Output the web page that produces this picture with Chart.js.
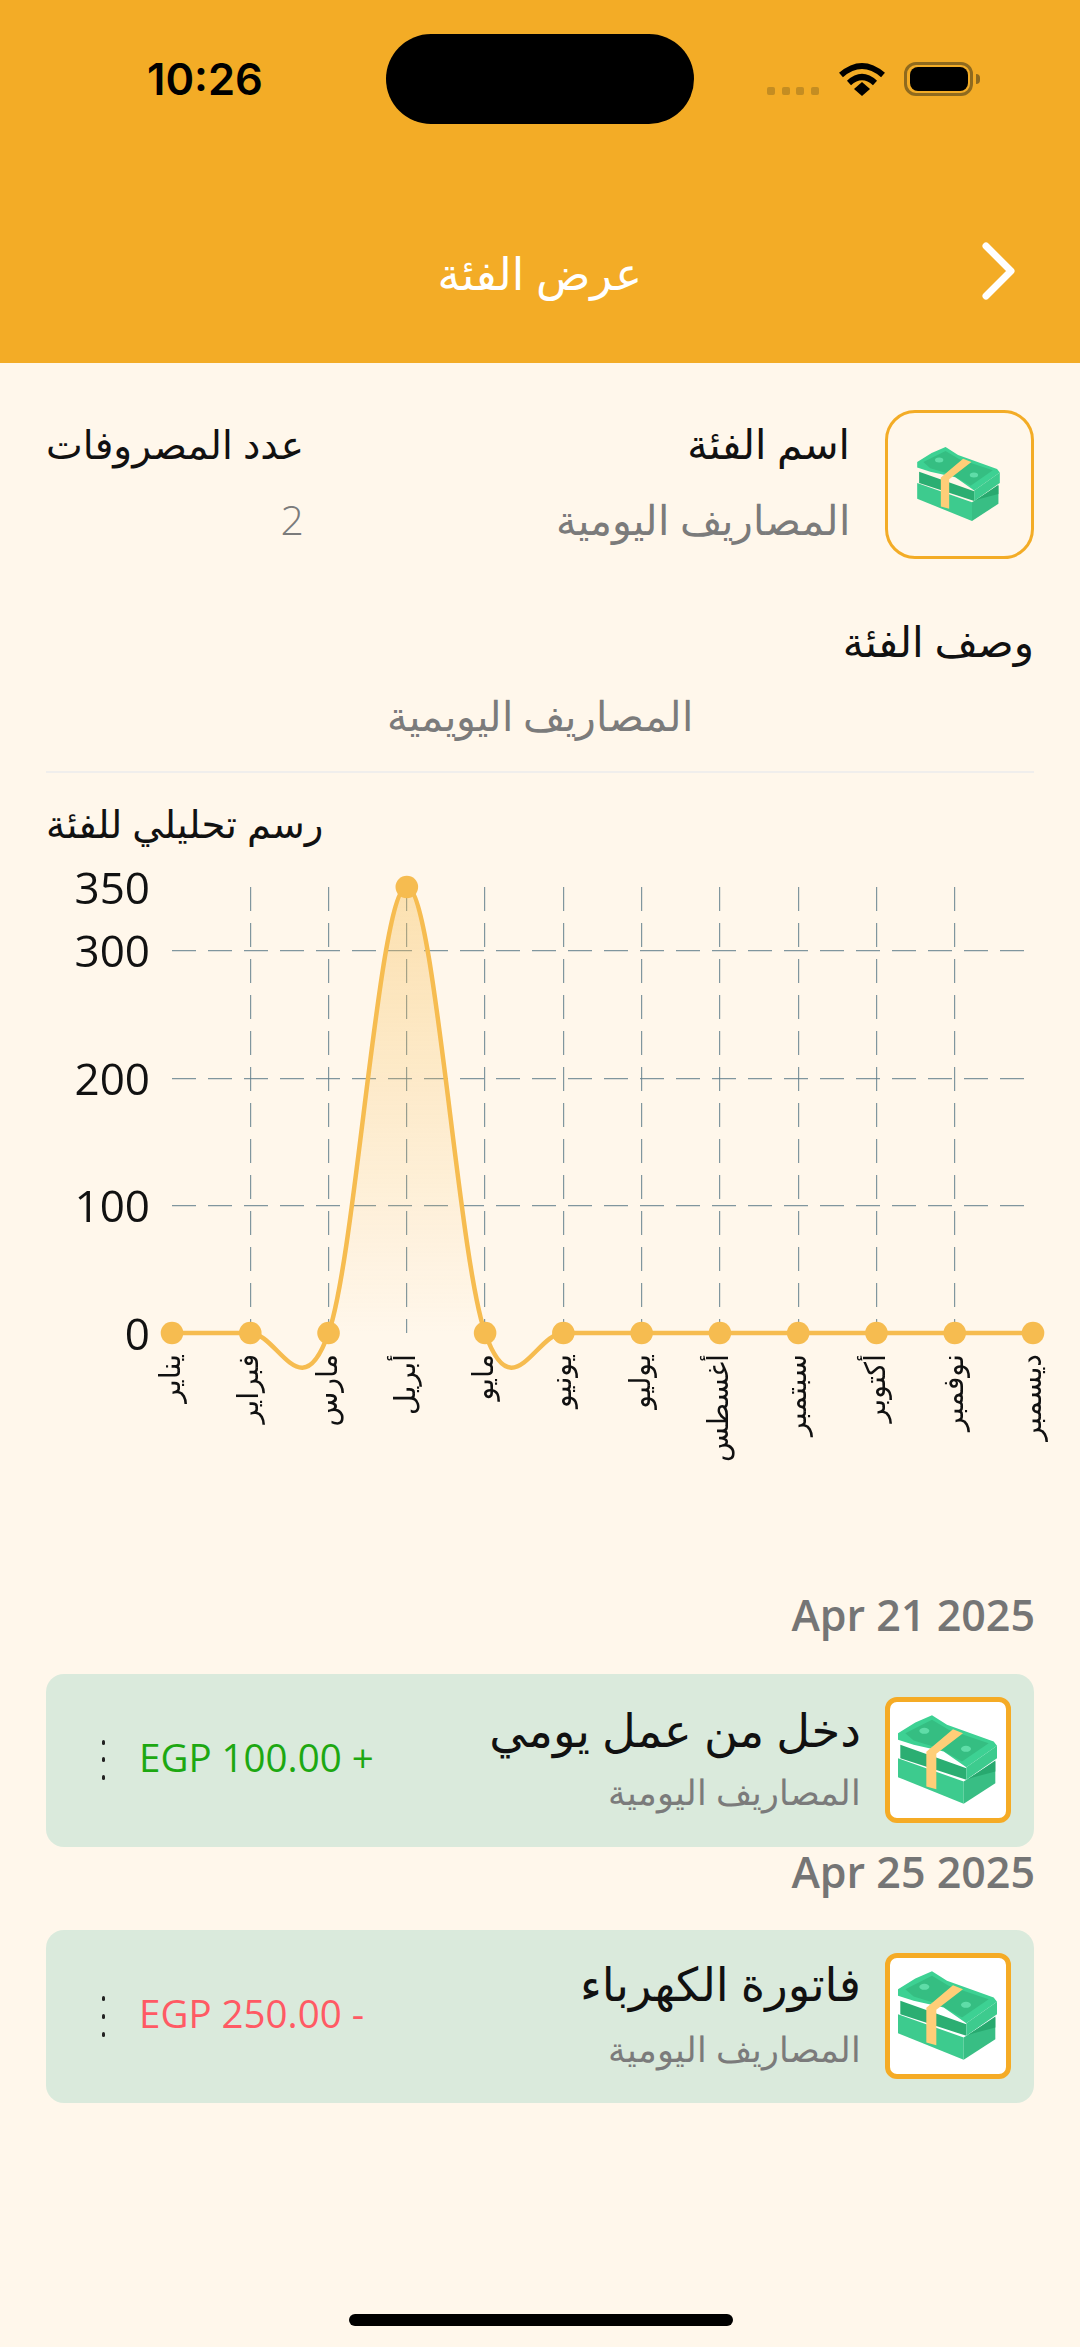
<!DOCTYPE html>
<html lang="ar">
<head>
<meta charset="utf-8">
<title>عرض الفئة</title>
<script src="https://cdn.jsdelivr.net/npm/chart.js@4"></script>
<style>
  html, body { margin: 0; padding: 0; }
  body { width: 1080px; height: 2347px; position: relative; overflow: hidden; background: #FFF7EB; font-family: 'Open Sans', 'Noto Sans', 'DejaVu Sans', sans-serif; }
  .box { position: absolute; box-sizing: border-box; }
  .t { position: absolute; white-space: nowrap; line-height: 1; transform: translateY(-50%); }
  .r { direction: rtl; }
  .head { color: #111; font-size: 39px; font-weight: 500; }
  .sub { color: #7b7b7b; font-size: 41px; font-weight: 300; }
  .date { color: #757575; font-size: 43px; font-weight: 600; }
  .name { color: #111; font-size: 46.5px; }
  .amt { font-size: 38.5px; direction: ltr; }
  .card { background: #DAEADC; border-radius: 18px; left: 46px; width: 988px; height: 173px; }
  .ico { background: #fff; border: 5px solid #F5AB25; border-radius: 12px; left: 885px; width: 126px; height: 126px; }
  .dot { background: #222; width: 3px; height: 5px; left: 102px; border-radius: 2px; }
  canvas { position: absolute; left: 0; top: 860px; }
  svg { position: absolute; overflow: visible; }
</style>
</head>
<body>
<svg width="0" height="0" style="left:0;top:0">
  <symbol id="cash" viewBox="53 76 297 266">
    <polygon points="53,205 250,275 250,342 53,262" fill="#3DCB8E"/>
    <polygon points="250,275 345,215 345,280 250,342" fill="#38BE84"/>
    <polygon points="60,165 258,235 258,270 60,205" fill="#2BAE72"/>
    <polygon points="262,268 345,212 345,245 280,262" fill="#28A96F"/>
    <polygon points="53,130 105,98 155,76 200,105 340,155 350,168 258,232 190,185 100,165 53,150" fill="#3DD193"/>
    <polygon points="75,130 155,90 205,120 325,160 245,215 175,175 100,152" fill="#35BE82"/>
    <polygon points="258,232 350,168 350,205 258,270" fill="#3DCB8E"/>
    <ellipse cx="132" cy="123" rx="15" ry="9" fill="#5FDDA8"/>
    <ellipse cx="257" cy="177" rx="15" ry="9" fill="#5FDDA8"/>
    <polygon points="218,118 248,130 168,192 168,298 138,290 138,186" fill="#FFCE78"/>
  </symbol>
</svg>

<div class="box" style="left:0;top:0;width:1080px;height:363px;background:#F3AC26"></div>
<div class="t" style="left:147px;top:80px;font-family:Inter;font-weight:600;font-size:43.5px;color:#000">10:26</div>
<div class="box" style="left:386px;top:34px;width:308px;height:90px;border-radius:45px;background:#000"></div>
<div class="box" style="left:767px;top:87px;width:8px;height:8px;border-radius:2px;background:#C48D22"></div>
<div class="box" style="left:782px;top:87px;width:8px;height:8px;border-radius:2px;background:#C48D22"></div>
<div class="box" style="left:796px;top:87px;width:8px;height:8px;border-radius:2px;background:#C48D22"></div>
<div class="box" style="left:811px;top:87px;width:8px;height:8px;border-radius:2px;background:#C48D22"></div>
<svg style="left:838px;top:60px" width="48" height="38" viewBox="0 0 48 38">
  <path d="M3 15 Q24 -3 45 15" fill="none" stroke="#000" stroke-width="6"/>
  <path d="M11 23 Q24 11 37 23" fill="none" stroke="#000" stroke-width="6"/>
  <polygon points="16,29 24,22 32,29 24,36" fill="#000"/>
</svg>
<div class="box" style="left:904px;top:62px;width:69px;height:34px;border:3px solid #8F6A1E;border-radius:12px"></div>
<div class="box" style="left:910px;top:67px;width:58px;height:24px;border-radius:8px;background:#000"></div>
<div class="box" style="left:976px;top:74px;width:4px;height:10px;border-radius:0 4px 4px 0;background:#8F6A1E"></div>

<div class="t r" style="left:440px;top:272px;width:202px;text-align:center;color:#fff;font-size:45px;font-weight:500">عرض الفئة</div>
<svg style="left:980px;top:240px" width="40" height="62" viewBox="0 0 40 62">
  <polyline points="6,6 31,31 6,56" fill="none" stroke="#fff" stroke-width="7" stroke-linecap="round" stroke-linejoin="round"/>
</svg>

<div class="box" style="left:885px;top:410px;width:149px;height:149px;border:3px solid #F3AC26;border-radius:30px"></div>
<svg style="left:917px;top:447px" width="83" height="74"><use href="#cash"/></svg>
<div class="t r head" style="right:230px;top:443px;font-size:41px">اسم الفئة</div>
<div class="t r head" style="right:776px;top:443px">عدد المصروفات</div>
<div class="t r sub" style="right:230px;top:519px">المصاريف اليومية</div>
<div class="t sub" style="right:776px;top:519px">2</div>
<div class="t r head" style="right:46px;top:641px;font-size:42px">وصف الفئة</div>
<div class="t r sub" style="left:340px;width:400px;text-align:center;top:715px">المصاريف اليويمية</div>
<div class="box" style="left:46px;top:771px;width:988px;height:2px;background:#F0EEEC"></div>
<div class="t r head" style="left:46px;top:823px;font-size:38.5px">رسم تحليلي للفئة</div>

<canvas id="myChart" width="1080" height="620"></canvas>

<div class="t date" style="right:45px;top:1614px">Apr 21 2025</div>
<div class="box card" style="top:1674px"></div>
<div class="box ico" style="top:1697px"></div>
<svg style="left:898px;top:1715px" width="99" height="89"><use href="#cash"/></svg>
<div class="t r name" style="right:219px;top:1729px">دخل من عمل يومي</div>
<div class="t r sub" style="right:219px;top:1792px;font-size:34.5px">المصاريف اليومية</div>
<div class="t amt" style="left:139px;top:1757px;color:#1DA812">EGP 100.00 +</div>
<div class="box dot" style="top:1740px"></div>
<div class="box dot" style="top:1757px"></div>
<div class="box dot" style="top:1775px"></div>

<div class="t date" style="right:45px;top:1871px">Apr 25 2025</div>
<div class="box card" style="top:1930px"></div>
<div class="box ico" style="top:1953px"></div>
<svg style="left:898px;top:1971px" width="99" height="89"><use href="#cash"/></svg>
<div class="t r name" style="right:219px;top:1983px">فاتورة الكهرباء</div>
<div class="t r sub" style="right:219px;top:2049px;font-size:34.5px">المصاريف اليومية</div>
<div class="t amt" style="left:139px;top:2013px;color:#FF5A64">EGP 250.00 -</div>
<div class="box dot" style="top:1996px"></div>
<div class="box dot" style="top:2014px"></div>
<div class="box dot" style="top:2032px"></div>

<div class="box" style="left:349px;top:2314px;width:384px;height:12px;border-radius:6px;background:#000"></div>

<script>
const months = ["يناير", "فبراير", "مارس", "أبريل", "مايو", "يونيو", "يوليو", "أغسطس", "سبتمبر", "أكتوبر", "نوفمبر", "ديسمبر"];
const expenses = [0, 0, 0, 350, 0, 0, 0, 0, 0, 0, 0, 0];
const yTicks = [0, 100, 200, 300, 350];

const lineColor = '#F6BC50';
const gridColor = 'rgba(96,125,139,0.8)';
const chartFont = "'Open Sans', 'DejaVu Sans', sans-serif";

// same curve as the app: control points follow the slope between neighbours, so the line dips under 0
const smoothCurve = {
  id: 'smoothCurve',
  beforeDatasetsDraw(chart) {
    const line = chart.getDatasetMeta(0).dataset;
    line.updateControlPoints(chart.chartArea, 'x');
    const pts = line.points;
    pts.forEach((p, i) => {
      const prev = pts[i - 1] || p;
      const next = pts[i + 1] || p;
      const dx = (next.x - prev.x) * 0.175;
      const dy = (next.y - prev.y) * 0.175;
      p.cp1x = p.x - dx;
      p.cp1y = p.y - dy;
      p.cp2x = p.x + dx;
      p.cp2y = p.y + dy;
    });
  }
};

// the plot box is fixed, labels must not push it in
function noScalePadding(s) {
  s.paddingTop = s.paddingBottom = s.paddingLeft = s.paddingRight = 0;
}

const ctx = document.getElementById('myChart').getContext('2d');
new Chart(ctx, {
  type: 'line',
  plugins: [smoothCurve],
  data: {
    labels: months,
    datasets: [{
      data: expenses,
      borderColor: lineColor,
      borderWidth: 4.5,
      tension: 0.35,
      capBezierPoints: false,
      clip: false,
      pointRadius: 11.3,
      pointBackgroundColor: lineColor,
      pointBorderWidth: 0,
      fill: 'origin',
      backgroundColor(c) {
        const area = c.chart.chartArea;
        if (!area) return 'transparent';
        const g = c.chart.ctx.createLinearGradient(0, area.top, 0, area.bottom);
        g.addColorStop(0, 'rgba(246,188,80,0.38)');
        g.addColorStop(1, 'rgba(246,188,80,0)');
        return g;
      }
    }]
  },
  options: {
    responsive: false,
    animation: false,
    devicePixelRatio: 1,
    layout: { padding: { top: 27, right: 47, left: 0, bottom: 0 } },
    plugins: { legend: { display: false }, tooltip: { enabled: false } },
    scales: {
      x: {
        afterFit(s) { s.height = 147; noScalePadding(s); },
        border: { display: false, dash: [24, 12] },
        grid: {
          lineWidth: 1.2,
          drawTicks: false,
          color: c => (c.index === 0 || c.index === months.length - 1) ? 'transparent' : gridColor
        },
        ticks: {
          autoSkip: false,
          minRotation: 90,
          maxRotation: 90,
          padding: 21,
          color: '#111',
          font: { family: chartFont, size: 28.5 }
        }
      },
      y: {
        min: 0,
        max: 350,
        afterBuildTicks(s) { s.ticks = yTicks.map(v => ({ value: v })); },
        afterFit(s) { s.width = 172; noScalePadding(s); },
        border: { display: false, dash: [24, 12] },
        grid: {
          lineWidth: 1.2,
          drawTicks: false,
          color: c => (c.tick.value === 0 || c.tick.value === 350) ? 'transparent' : gridColor
        },
        ticks: {
          padding: 22,
          labelOffset: 4,
          color: '#111',
          font: { family: chartFont, size: 44 }
        }
      }
    }
  }
});
</script>
</body>
</html>
